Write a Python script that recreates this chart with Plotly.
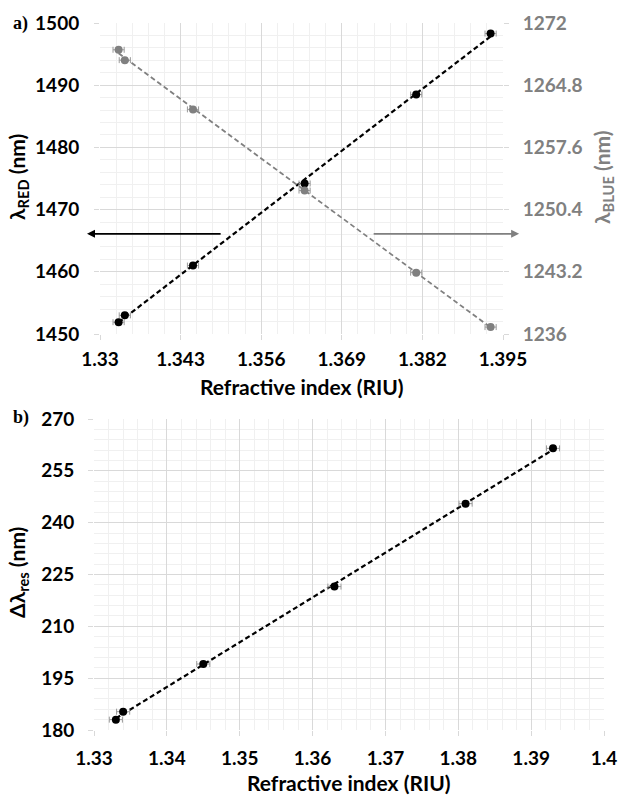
import numpy as np
import plotly.graph_objects as go

# Refractive index of the test solutions (RIU)
n_riu = [1.333, 1.334, 1.345, 1.363, 1.381, 1.393]
n_err = [0.0009, 0.0009, 0.0009, 0.0009, 0.0009, 0.0009]

# Resonance wavelengths (nm)
lambda_red = [1451.9, 1453.0, 1461.0, 1474.2, 1488.5, 1498.3]
lambda_blue = [1268.9, 1267.7, 1262.0, 1252.6, 1243.1, 1236.8]
delta_lambda = [183.0, 185.3, 199.1, 221.5, 245.5, 261.5]

# Tick labels
top_x_ticks = [1.33, 1.343, 1.356, 1.369, 1.382, 1.395]
top_x_text = ["1.33", "1.343", "1.356", "1.369", "1.382", "1.395"]
red_ticks = [1450, 1460, 1470, 1480, 1490, 1500]
blue_ticks = [1236, 1243.2, 1250.4, 1257.6, 1264.8, 1272]
blue_text = ["1236", "1243.2", "1250.4", "1257.6", "1264.8", "1272"]
bot_x_ticks = [1.33, 1.34, 1.35, 1.36, 1.37, 1.38, 1.39, 1.40]
bot_x_text = ["1.33", "1.34", "1.35", "1.36", "1.37", "1.38", "1.39", "1.4"]
delta_ticks = [180, 195, 210, 225, 240, 255, 270]

W, H = 618, 796
FONT = "Lato"
GREY = "#808080"
MAJ = "#d9d9d9"
MIN = "#f0f0f0"


def fit_line(x, y):
    k, b = np.polyfit(x, y, 1)
    xs = np.array([min(x), max(x)])
    return xs, k * xs + b


def px_x(p):
    return p / W


def px_y(p):
    return 1 - p / H


fig = go.Figure()

err = dict(type="data", array=n_err, visible=True, color="#9a9a9a", thickness=1, width=3)

# top panel: red (black) branch
fx, fy = fit_line(n_riu, lambda_red)
fig.add_trace(go.Scatter(x=fx, y=fy, mode="lines", xaxis="x", yaxis="y",
                         line=dict(color="black", width=2.2, dash="5px,3px"), showlegend=False))
fig.add_trace(go.Scatter(x=n_riu, y=lambda_red, mode="markers", xaxis="x", yaxis="y",
                         marker=dict(color="black", size=8), error_x=err, showlegend=False))

# top panel: blue (grey) branch on the right axis
fx, fy = fit_line(n_riu, lambda_blue)
fig.add_trace(go.Scatter(x=fx, y=fy, mode="lines", xaxis="x", yaxis="y2",
                         line=dict(color=GREY, width=1.8, dash="5px,3px"), showlegend=False))
fig.add_trace(go.Scatter(x=n_riu, y=lambda_blue, mode="markers", xaxis="x", yaxis="y2",
                         marker=dict(color=GREY, size=8), error_x=err, showlegend=False))

# bottom panel: wavelength separation
fx, fy = fit_line(n_riu, delta_lambda)
fig.add_trace(go.Scatter(x=fx, y=fy, mode="lines", xaxis="x2", yaxis="y3",
                         line=dict(color="black", width=2.2, dash="5px,3px"), showlegend=False))
fig.add_trace(go.Scatter(x=n_riu, y=delta_lambda, mode="markers", xaxis="x2", yaxis="y3",
                         marker=dict(color="black", size=8), error_x=err, showlegend=False))

tickfont = dict(family=FONT, size=19, color="black", weight="bold")
axis_common = dict(showline=False, zeroline=False, ticks="outside", ticklen=5,
                   tickcolor=MAJ, gridcolor=MAJ, gridwidth=1, tickfont=tickfont,
                   automargin=False)

fig.update_layout(
    template="none",
    width=W, height=H,
    margin=dict(l=0, r=0, t=0, b=0, pad=0),
    paper_bgcolor="white", plot_bgcolor="white",
    xaxis=dict(axis_common, domain=[px_x(100), px_x(503)], range=[1.33, 1.395],
               tickvals=top_x_ticks, ticktext=top_x_text, anchor="y",
               ticklabelstandoff=3,
               minor=dict(tick0=1.33, dtick=0.0026, showgrid=True, gridcolor=MIN, ticks="")),
    yaxis=dict(axis_common, domain=[px_y(334), px_y(23)], range=[1450, 1500],
               tickvals=red_ticks, anchor="x", ticklabelstandoff=11,
               minor=dict(tick0=1450, dtick=2, showgrid=True, gridcolor=MIN, ticks="")),
    yaxis2=dict(axis_common, overlaying="y", side="right", anchor="x",
                range=[1236, 1272], tickvals=blue_ticks, ticktext=blue_text,
                showgrid=False, ticklabelstandoff=10,
                tickfont=dict(family=FONT, size=19, color=GREY, weight="bold")),
    xaxis2=dict(axis_common, domain=[px_x(94), px_x(604)], range=[1.33, 1.40],
                tickvals=bot_x_ticks, ticktext=bot_x_text, anchor="y3",
                ticklabelstandoff=6,
                minor=dict(tick0=1.33, dtick=0.002, showgrid=True, gridcolor=MIN, ticks="")),
    yaxis3=dict(axis_common, domain=[px_y(730), px_y(419)], range=[180, 270],
                tickvals=delta_ticks, anchor="x2", ticklabelstandoff=10,
                minor=dict(tick0=180, dtick=3, showgrid=True, gridcolor=MIN, ticks="")),
)

title_font = dict(family=FONT, size=21, color="black", weight="bold")
ytitle_font = dict(family=FONT, size=21, color="black", weight="bold")
annotations = [
    dict(text="Refractive index (RIU)", x=px_x(302), y=px_y(386), xref="paper", yref="paper",
         showarrow=False, font=title_font, xanchor="center", yanchor="middle"),
    dict(text="Refractive index (RIU)", x=px_x(349), y=px_y(782), xref="paper", yref="paper",
         showarrow=False, font=title_font, xanchor="center", yanchor="middle"),
    dict(text="λ<sub>RED</sub> (nm)", x=px_x(18), y=px_y(177), xref="paper", yref="paper",
         showarrow=False, textangle=-90, font=ytitle_font, xanchor="center", yanchor="middle"),
    dict(text="λ<sub>BLUE</sub> (nm)", x=px_x(603), y=px_y(177), xref="paper", yref="paper",
         showarrow=False, textangle=-90, xanchor="center", yanchor="middle",
         font=dict(family=FONT, size=21, color=GREY, weight="bold")),
    dict(text="Δλ<sub>res</sub> (nm)", x=px_x(18), y=px_y(573), xref="paper", yref="paper",
         showarrow=False, textangle=-90, font=ytitle_font, xanchor="center", yanchor="middle"),
    dict(text="a)", x=px_x(11), y=px_y(23), xref="paper", yref="paper", showarrow=False,
         xanchor="left", yanchor="middle",
         font=dict(family="Liberation Serif", size=18, color="black", weight="bold")),
    dict(text="b)", x=px_x(11), y=px_y(417), xref="paper", yref="paper", showarrow=False,
         xanchor="left", yanchor="middle",
         font=dict(family="Liberation Serif", size=18, color="black", weight="bold")),
    # arrows pointing to the axis each branch belongs to
    dict(x=1.3279, y=1466.1, ax=1.3497, ay=1466.1, xref="x", yref="y", axref="x", ayref="y",
         text="", showarrow=True, arrowhead=2, arrowsize=1, arrowwidth=1.6, arrowcolor="black"),
    dict(x=1.3976, y=1466.1, ax=1.3739, ay=1466.1, xref="x", yref="y", axref="x", ayref="y",
         text="", showarrow=True, arrowhead=2, arrowsize=1, arrowwidth=1.6, arrowcolor=GREY),
]
fig.update_layout(annotations=annotations)

fig.write_html("out.html")
